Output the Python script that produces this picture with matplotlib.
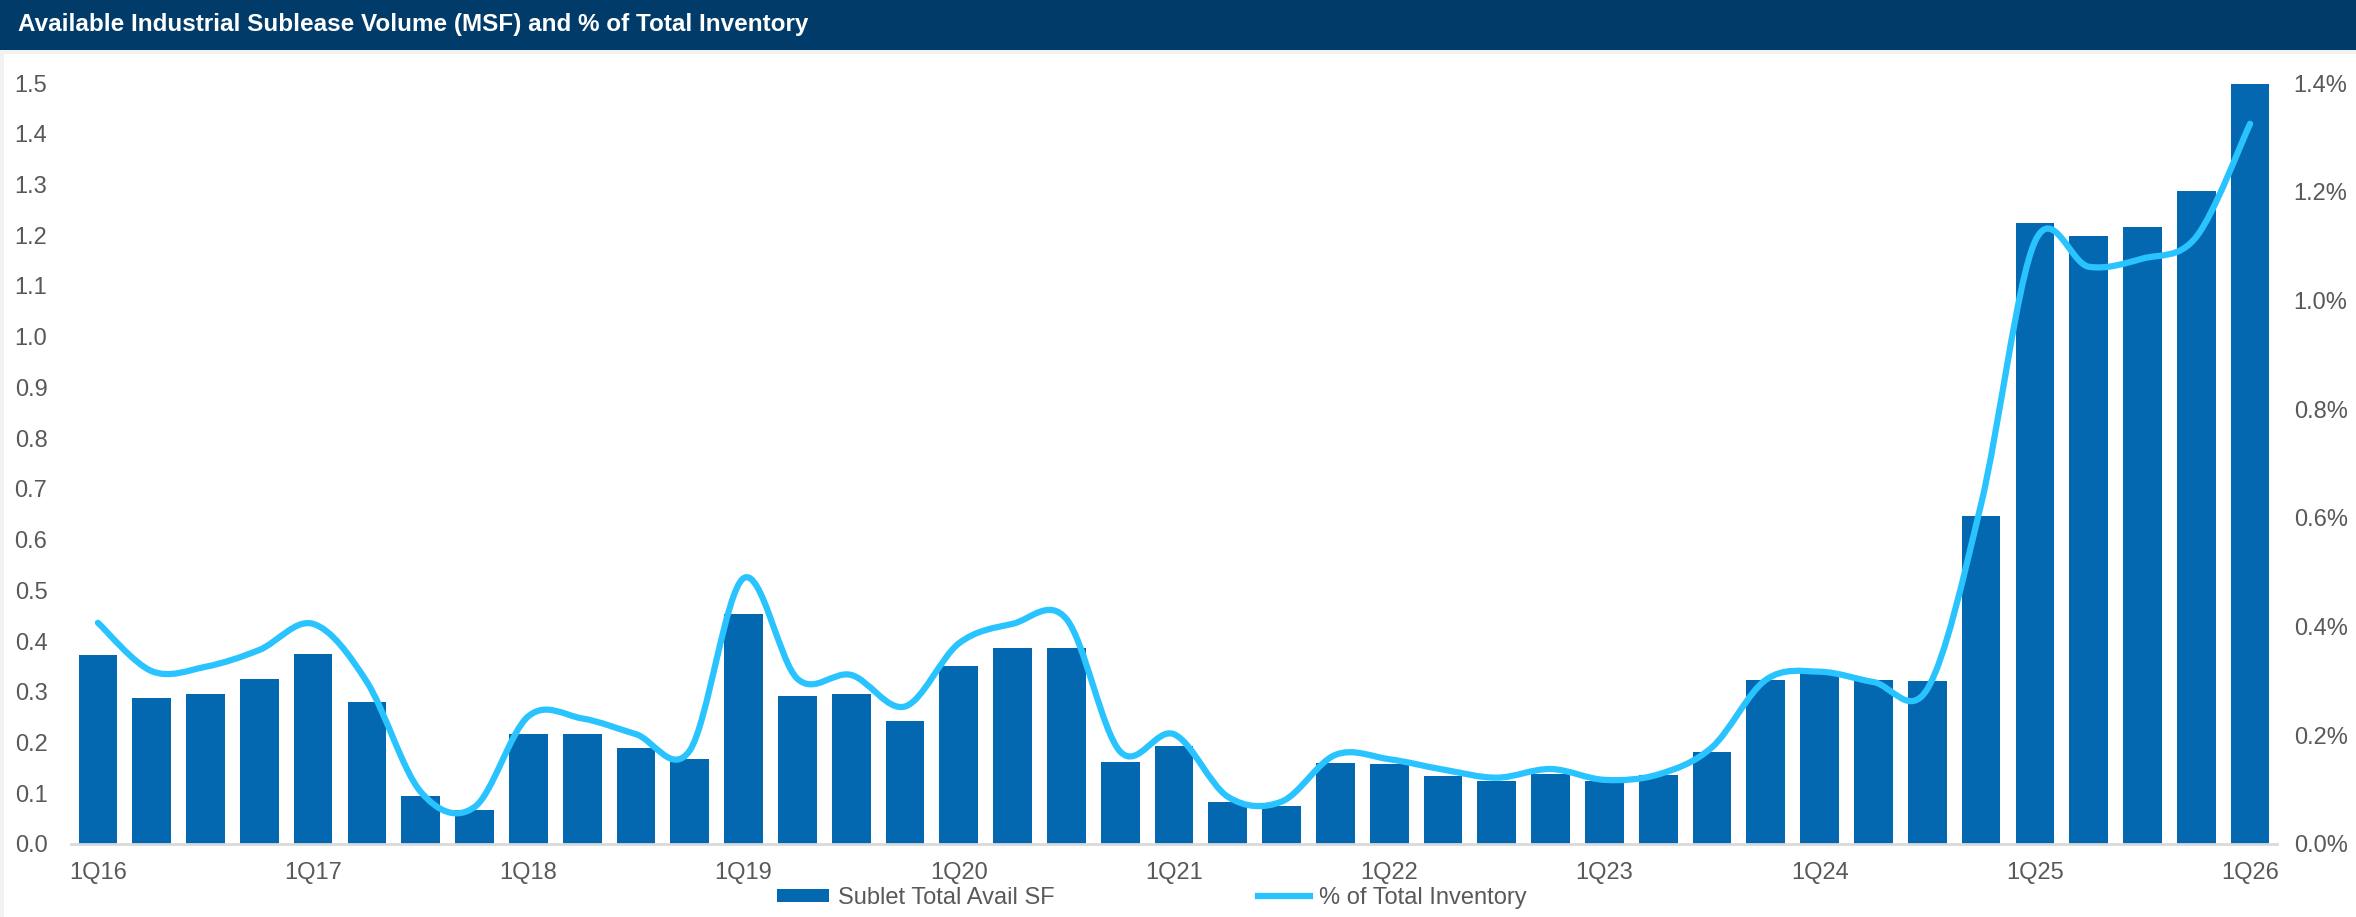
import matplotlib
matplotlib.use("Agg")
import matplotlib.pyplot as plt
from matplotlib.path import Path
from matplotlib.patches import PathPatch, Rectangle
from matplotlib.ticker import FuncFormatter, MultipleLocator

plt.rcParams['font.family'] = ['Liberation Sans', 'DejaVu Sans']

# ---- data ----
quarters = [f"{q}Q{y:02d}" for y in range(16, 26) for q in range(1, 5)] + ["1Q26"]
sublet_msf = [0.372, 0.287, 0.296, 0.325, 0.374, 0.280, 0.095, 0.067,
              0.216, 0.216, 0.189, 0.167, 0.453, 0.292, 0.296, 0.242,
              0.350, 0.386, 0.386, 0.162, 0.194, 0.082, 0.075, 0.159,
              0.157, 0.135, 0.124, 0.138, 0.124, 0.136, 0.181, 0.323,
              0.340, 0.323, 0.321, 0.647, 1.225, 1.198, 1.216, 1.288, 1.499]
pct_inventory = [0.407, 0.318, 0.326, 0.357, 0.405, 0.298, 0.096, 0.068,
                 0.235, 0.231, 0.202, 0.172, 0.489, 0.304, 0.311, 0.253,
                 0.369, 0.405, 0.414, 0.170, 0.202, 0.087, 0.078, 0.164,
                 0.156, 0.137, 0.122, 0.138, 0.118, 0.128, 0.178, 0.302,
                 0.317, 0.298, 0.285, 0.625, 1.108, 1.062, 1.077, 1.117, 1.325]

bar_color = '#0468B1'
line_color = '#29C4FF'
text_color = '#595959'

W, H = 2356, 917
fig = plt.figure(figsize=(W / 100, H / 100), dpi=100, facecolor='#F2F2F2')

# white panel + navy title bar (behind the axes)
fig.patches.append(Rectangle((4 / W, 0), 1 - 4 / W, 1 - 54 / H, transform=fig.transFigure,
                             facecolor='white', edgecolor='none', zorder=-10))
fig.patches.append(Rectangle((0, 1 - 50 / H), 1, 50 / H, transform=fig.transFigure,
                             facecolor='#003B6A', edgecolor='none', zorder=-10))
fig.text(18 / W, 1 - 25 / H, 'Available Industrial Sublease Volume (MSF) and % of Total Inventory',
         color='white', fontsize=17.5, fontweight='bold', va='center', ha='left')

ax = fig.add_axes([71 / W, 73 / H, (2277 - 71) / W, (844 - 83) / H])
ax.set_facecolor('none')
x = list(range(len(quarters)))
ax.bar(x, sublet_msf, width=0.72, color=bar_color, linewidth=0, label='Sublet Total Avail SF')
ax.set_xlim(-0.5, len(quarters) - 0.5)
ax.set_ylim(0, 1.5)
ax.yaxis.set_major_locator(MultipleLocator(0.1))
ax.yaxis.set_major_formatter(FuncFormatter(lambda v, p: f"{v:.1f}"))
ax.set_xticks(x[::4])
ax.set_xticklabels(quarters[::4])
for s in ['top', 'right', 'left']:
    ax.spines[s].set_visible(False)
ax.spines['bottom'].set_color('#D9D9D9')
ax.spines['bottom'].set_linewidth(2)
ax.tick_params(axis='y', length=0, pad=17, labelsize=17, labelcolor=text_color)
ax.tick_params(axis='x', length=0, pad=13, labelsize=17, labelcolor=text_color)

# % of inventory on right axis, smoothed like Excel
ax2 = ax.twinx()
ax2.set_ylim(0, 1.4)
ax2.yaxis.set_major_locator(MultipleLocator(0.2))
ax2.yaxis.set_major_formatter(FuncFormatter(lambda v, p: f"{v:.1f}%"))
ax2.tick_params(axis='y', length=0, pad=12, labelsize=17, labelcolor=text_color)
for s in ['top', 'right', 'left', 'bottom']:
    ax2.spines[s].set_visible(False)

pts = list(zip(x, pct_inventory))
verts = [pts[0]]
codes = [Path.MOVETO]
n = len(pts)
for i in range(n - 1):
    p0 = pts[max(i - 1, 0)]
    p1 = pts[i]
    p2 = pts[i + 1]
    p3 = pts[min(i + 2, n - 1)]
    c1 = (p1[0] + (p2[0] - p0[0]) / 6, p1[1] + (p2[1] - p0[1]) / 6)
    c2 = (p2[0] - (p3[0] - p1[0]) / 6, p2[1] - (p3[1] - p1[1]) / 6)
    verts += [c1, c2, p2]
    codes += [Path.CURVE4] * 3
ax2.add_patch(PathPatch(Path(verts, codes), facecolor='none', edgecolor=line_color,
                        linewidth=4.5, capstyle='round', joinstyle='round'))
line_handle, = ax2.plot([], [], color=line_color, linewidth=4.5, label='% of Total Inventory')

h1, l1 = ax.get_legend_handles_labels()
fig.legend(h1 + [line_handle], l1 + ['% of Total Inventory'], loc='center',
           bbox_to_anchor=(1152 / W, 19 / H), ncol=2, frameon=False, fontsize=17,
           labelcolor=text_color, handlelength=2.2, handleheight=0.5,
           handletextpad=0.4, columnspacing=8.6)

fig.savefig('out.png', dpi=100, facecolor=fig.get_facecolor())
